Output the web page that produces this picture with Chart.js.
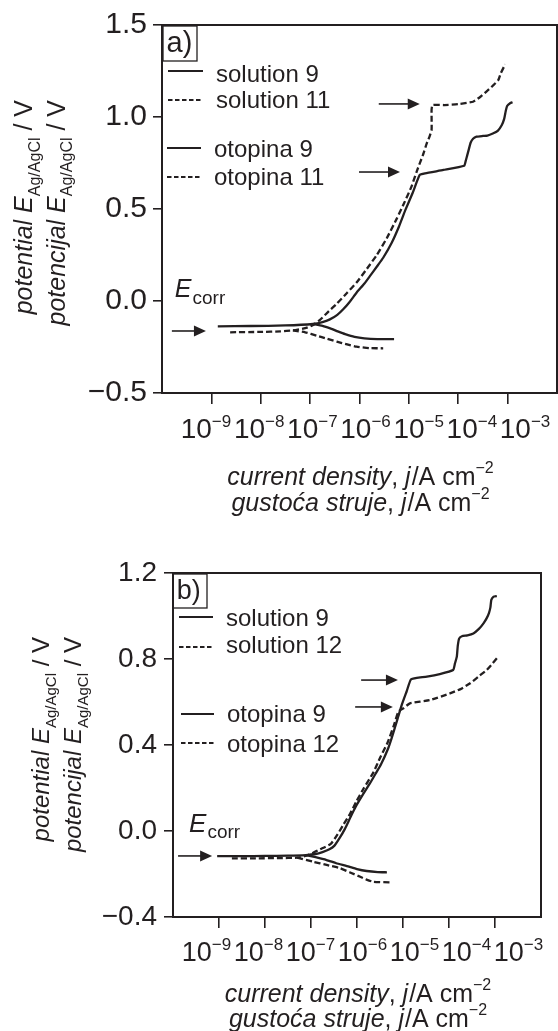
<!DOCTYPE html>
<html>
<head>
<meta charset="utf-8">
<title>Potentiodynamic polarization curves</title>
<script src="https://cdn.jsdelivr.net/npm/chart.js@4.4.1/dist/chart.umd.min.js"></script>
<style>
  html, body { margin: 0; padding: 0; background: #fff; }
  #wrap { position: relative; width: 558px; height: 1031px; overflow: hidden; }
  canvas { position: absolute; left: 0; }
</style>
</head>
<body>
<div id="wrap">
  <canvas id="panelA" width="558" height="530" style="top:0px"></canvas>
  <canvas id="panelB" width="558" height="501" style="top:530px"></canvas>
</div>
<script>
// ---- axis ticks -------------------------------------------------------------
// current-density decades that carry a tick and a label (exponent of 10)
const xTickExponents = [-9, -8, -7, -6, -5, -4, -3];
const yTicksA = [-0.5, 0.0, 0.5, 1.0, 1.5];
const yTickLabelsA = ['\u22120.5', '0.0', '0.5', '1.0', '1.5'];
const yTicksB = [-0.4, 0.0, 0.4, 0.8, 1.2];
const yTickLabelsB = ['\u22120.4', '0.0', '0.4', '0.8', '1.2'];

// ---- legend entries -----------------------------------------------------------
const legendA = ['solution 9', 'solution 11', 'otopina 9', 'otopina 11'];
const legendB = ['solution 9', 'solution 12', 'otopina 9', 'otopina 12'];

// ---- (a) solution 9 vs solution 11: log10(j / A cm^-2) and E / V ------------
const aSol9AnodicLogJ = [-8.87, -8.2, -7.5, -6.94, -6.75, -6.6, -6.45, -6.33, -6.2, -6.06, -5.9, -5.79, -5.64, -5.52, -5.35, -5.2, -5.07, -4.92, -4.78, -4.67, -4.3, -3.88, -3.85, -3.82, -3.79, -3.75, -3.70, -3.63, -3.5, -3.41, -3.3, -3.2, -3.12, -3.07, -3.04, -3.01, -2.95, -2.90];
const aSol9AnodicE    = [-0.138, -0.136, -0.133, -0.125, -0.115, -0.100, -0.075, -0.045, -0.005, 0.045, 0.095, 0.135, 0.19, 0.235, 0.315, 0.405, 0.495, 0.59, 0.685, 0.694, 0.712, 0.735, 0.76, 0.79, 0.82, 0.86, 0.882, 0.893, 0.897, 0.899, 0.91, 0.925, 0.955, 0.99, 1.03, 1.06, 1.075, 1.08];
const aSol9CathodicLogJ = [-6.94, -6.75, -6.58, -6.44, -6.29, -6.1, -5.9, -5.64, -5.3];
const aSol9CathodicE    = [-0.125, -0.135, -0.150, -0.165, -0.180, -0.195, -0.203, -0.207, -0.207];

const aSol11AnodicLogJ = [-8.62, -8.0, -7.6, -7.35, -7.1, -6.95, -6.8, -6.62, -6.46, -6.25, -6.06, -5.85, -5.65, -5.45, -5.25, -5.1, -4.95, -4.84, -4.72, -4.64, -4.58, -4.54, -4.54, -4.54, -4.52, -4.28, -4.0, -3.70, -3.55, -3.43, -3.3, -3.19, -3.14, -3.05];
const aSol11AnodicE    = [-0.170, -0.168, -0.165, -0.160, -0.148, -0.132, -0.103, -0.055, -0.015, 0.045, 0.10, 0.175, 0.25, 0.34, 0.445, 0.53, 0.62, 0.705, 0.79, 0.855, 0.895, 0.93, 1.00, 1.04, 1.065, 1.065, 1.07, 1.083, 1.11, 1.138, 1.17, 1.20, 1.237, 1.286];
const aSol11CathodicLogJ = [-7.35, -7.1, -6.87, -6.66, -6.46, -6.25, -6.06, -5.8, -5.52];
const aSol11CathodicE    = [-0.160, -0.170, -0.188, -0.205, -0.221, -0.236, -0.248, -0.256, -0.257];

// ---- (b) solution 9 vs solution 12 -------------------------------------------
const bSol9AnodicLogJ = [-9.04, -8.5, -8.0, -7.5, -7.11, -6.9, -6.75, -6.6, -6.49, -6.37, -6.26, -6.14, -6.02, -5.87, -5.72, -5.6, -5.48, -5.33, -5.25, -5.17, -5.1, -5.02, -4.92, -4.83, -4.7, -4.48, -4.2, -3.91, -3.87, -3.83, -3.81, -3.78, -3.72, -3.6, -3.47, -3.35, -3.25, -3.18, -3.13, -3.10, -3.08, -3.03, -2.96];
const bSol9AnodicE    = [-0.117, -0.117, -0.116, -0.115, -0.112, -0.107, -0.098, -0.085, -0.068, -0.030, 0.011, 0.065, 0.116, 0.17, 0.221, 0.265, 0.309, 0.38, 0.43, 0.485, 0.535, 0.591, 0.65, 0.704, 0.712, 0.718, 0.73, 0.749, 0.78, 0.811, 0.86, 0.895, 0.906, 0.91, 0.919, 0.94, 0.966, 0.99, 1.015, 1.04, 1.075, 1.09, 1.093];
const bSol9CathodicLogJ = [-7.11, -6.9, -6.66, -6.45, -6.22, -6.0, -5.79, -5.55, -5.35];
const bSol9CathodicE    = [-0.112, -0.122, -0.135, -0.150, -0.163, -0.177, -0.186, -0.191, -0.192];

const bSol12AnodicLogJ = [-8.72, -8.2, -7.7, -7.3, -7.1, -6.96, -6.8, -6.57, -6.42, -6.30, -6.15, -6.02, -5.85, -5.64, -5.5, -5.33, -5.2, -5.10, -4.99, -4.85, -4.41, -3.98, -3.75, -3.54, -3.35, -3.18, -3.05, -2.96];
const bSol12AnodicE    = [-0.127, -0.127, -0.126, -0.124, -0.115, -0.102, -0.085, -0.06, -0.015, 0.028, 0.08, 0.135, 0.2, 0.274, 0.34, 0.414, 0.49, 0.555, 0.571, 0.594, 0.609, 0.640, 0.66, 0.687, 0.72, 0.749, 0.78, 0.803];
const bSol12CathodicLogJ = [-7.3, -6.95, -6.66, -6.37, -6.15, -5.93, -5.78, -5.65, -5.28];
const bSol12CathodicE    = [-0.124, -0.143, -0.158, -0.173, -0.193, -0.213, -0.227, -0.236, -0.239];

// ---- drawing ----------------------------------------------------------------
const INK = '#231f20';
const FONT = "'Liberation Sans', Arial, Helvetica, sans-serif";
const Y_AXIS_WIDTH = 100;   // room for the potential tick labels

function points(logJ, e) {
  return logJ.map((lj, i) => ({ x: Math.pow(10, lj), y: e[i] }));
}

function runsWidth(ctx, runs) {
  let w = 0;
  for (const r of runs) { ctx.font = r.font; w += ctx.measureText(r.t).width + (r.gap || 0); }
  return w;
}
function drawRuns(ctx, x, y, runs) {
  for (const r of runs) {
    ctx.font = r.font;
    ctx.fillText(r.t, x, y + (r.dy || 0));
    x += ctx.measureText(r.t).width + (r.gap || 0);
  }
}

// frame, panel tag, legend, arrows, E_corr label, tick labels and axis titles
const panelDecor = {
  id: 'panelDecor',
  afterDraw(chart, _args, o) {
    const ctx = chart.ctx;
    const ca = chart.chartArea;
    const xs = chart.scales.x, ys = chart.scales.y;
    const px = lj => xs.getPixelForValue(Math.pow(10, lj));
    const py = e => ys.getPixelForValue(e);

    ctx.save();
    ctx.strokeStyle = INK;
    ctx.fillStyle = INK;
    ctx.textAlign = 'left';
    ctx.textBaseline = 'alphabetic';
    ctx.setLineDash([]);

    // closed plot frame
    ctx.lineWidth = 2;
    ctx.strokeRect(ca.left, ca.top, ca.right - ca.left, ca.bottom - ca.top);

    // boxed panel tag
    const t = o.tag;
    ctx.lineWidth = 1.3;
    ctx.strokeRect(ca.left + t.box[0], ca.top + t.box[1], t.box[2], t.box[3]);
    ctx.font = `${t.size}px ${FONT}`;
    ctx.fillText(t.text, ca.left + t.tx, ca.top + t.ty);

    // legend rows
    const lg = o.legend;
    lg.labels.forEach((label, i) => {
      const r = lg.rows[i];
      ctx.lineWidth = 2;
      ctx.setLineDash(r.dashed ? [4.5, 2.5] : []);
      ctx.beginPath();
      ctx.moveTo(ca.left + r.x0, ca.top + r.ly);
      ctx.lineTo(ca.left + r.x1, ca.top + r.ly);
      ctx.stroke();
      ctx.setLineDash([]);
      ctx.font = `${lg.size}px ${FONT}`;
      ctx.fillText(label, ca.left + r.tx, ca.top + r.ty);
    });

    // arrows marking E_corr and the breakdown potentials
    ctx.lineWidth = 1.6;
    o.arrows.forEach(a => {
      const x1 = px(a.from), x2 = px(a.to), y = py(a.e);
      ctx.beginPath();
      ctx.moveTo(x1, y);
      ctx.lineTo(x2 - 10, y);
      ctx.stroke();
      ctx.beginPath();
      ctx.moveTo(x2, y);
      ctx.lineTo(x2 - 12, y - 5.5);
      ctx.lineTo(x2 - 12, y + 5.5);
      ctx.closePath();
      ctx.fill();
    });

    // E_corr label
    const ec = o.ecorr;
    drawRuns(ctx, px(ec.at[0]), py(ec.at[1]), [
      { t: 'E', font: `italic ${ec.size}px ${FONT}`, gap: 1 },
      { t: 'corr', font: `${ec.sub}px ${FONT}`, dy: ec.drop }
    ]);

    // current-density tick labels 10^n
    const L = o.xLabels;
    xTickExponents.forEach((e, i) => {
      const runs = [
        { t: '10', font: `${L.size}px ${FONT}` },
        { t: '\u2212' + Math.abs(e), font: `${L.sup}px ${FONT}`, dy: -L.rise }
      ];
      const w = runsWidth(ctx, runs);
      const cx = px(e) + L.shift + (i - 3) * L.spread;
      drawRuns(ctx, cx - w / 2, ca.bottom + L.base, runs);
    });

    // x-axis title (two languages)
    const xt = o.xTitle;
    const xs0 = xt.size;
    ['current density', 'gusto\u0107a struje'].forEach((ln, k) => {
      const runs = [
        { t: ln, font: `italic ${xs0}px ${FONT}` },
        { t: ', ', font: `${xs0}px ${FONT}` },
        { t: 'j', font: `italic ${xs0}px ${FONT}`, gap: 1 },
        { t: '/A cm', font: `${xs0}px ${FONT}` },
        { t: '\u22122', font: `${xt.sup}px ${FONT}`, dy: -xt.rise }
      ];
      const w = runsWidth(ctx, runs);
      const cx = (ca.left + ca.right) / 2 + xt.dx;
      drawRuns(ctx, cx - w / 2, xt.base[k], runs);
    });

    // y-axis title (two languages), rotated
    const yt = o.yTitle;
    const s = yt.size;
    ['potential ', 'potencijal '].forEach((ln, k) => {
      const runs = [
        { t: ln, font: `italic ${s}px ${FONT}` },
        { t: 'E', font: `italic ${s}px ${FONT}` },
        { t: 'Ag/AgCl', font: `${Math.round(s * 0.62)}px ${FONT}`, dy: s * 0.3 },
        { t: ' / V', font: `${s}px ${FONT}` }
      ];
      const w = runsWidth(ctx, runs);
      ctx.save();
      ctx.translate(yt.x[k], yt.top);
      ctx.rotate(-Math.PI / 2);
      drawRuns(ctx, -w, 0, runs);
      ctx.restore();
    });

    ctx.restore();
  }
};

function makePanel(canvasId, p) {
  const solid = { borderDash: [] }, dashed = { borderDash: [6, 3] };
  const sets = [
    [p.s1Anodic, solid], [p.s1Cathodic, solid],
    [p.s2Anodic, dashed], [p.s2Cathodic, dashed]
  ];
  return new Chart(document.getElementById(canvasId), {
    type: 'scatter',
    data: {
      datasets: sets.map(([d, st]) => ({
        data: d,
        showLine: true,
        pointRadius: 0,
        pointHoverRadius: 0,
        borderColor: INK,
        borderWidth: 2.3,
        borderDash: st.borderDash,
        tension: 0.15,
        fill: false
      }))
    },
    options: {
      responsive: false,
      devicePixelRatio: 1,
      animation: false,
      events: [],
      layout: { autoPadding: false, padding: p.padding },
      plugins: {
        legend: { display: false },
        tooltip: { enabled: false },
        panelDecor: p.decor
      },
      scales: {
        x: {
          type: 'logarithmic',
          min: 1e-10,
          max: 1e-2,
          afterBuildTicks: sc => { sc.ticks = xTickExponents.map(e => ({ value: Math.pow(10, e) })); },
          afterFit: sc => { sc.height = 11; },
          ticks: { display: false },
          grid: { drawOnChartArea: false, drawTicks: true, tickLength: 11, color: INK, tickColor: INK, lineWidth: 1.6, tickWidth: 1.6 },
          border: { display: true, color: INK, width: 2 }
        },
        y: {
          type: 'linear',
          min: p.yTicks[0],
          max: p.yTicks[p.yTicks.length - 1],
          afterBuildTicks: sc => { sc.ticks = p.yTicks.map(v => ({ value: v })); },
          afterFit: sc => { sc.width = Y_AXIS_WIDTH; },
          ticks: {
            display: true,
            padding: p.yTickPad,
            color: INK,
            font: { family: FONT, size: p.yTickSize },
            callback: (v, i) => p.yTickLabels[i]
          },
          grid: { drawOnChartArea: false, drawTicks: true, tickLength: 9, color: INK, tickColor: INK, lineWidth: 1.6, tickWidth: 1.6 },
          border: { display: true, color: INK, width: 2 }
        }
      }
    },
    plugins: [panelDecor]
  });
}

makePanel('panelA', {
  s1Anodic: points(aSol9AnodicLogJ, aSol9AnodicE),
  s1Cathodic: points(aSol9CathodicLogJ, aSol9CathodicE),
  s2Anodic: points(aSol11AnodicLogJ, aSol11AnodicE),
  s2Cathodic: points(aSol11CathodicLogJ, aSol11CathodicE),
  yTicks: yTicksA,
  yTickLabels: yTickLabelsA,
  yTickSize: 30,
  yTickPad: 6,
  padding: { left: 162 - Y_AXIS_WIDTH, right: 1, top: 25, bottom: 126 },
  decor: {
    tag: { text: 'a)', size: 29, box: [1, 1, 34, 35], tx: 4.5, ty: 27 },
    legend: {
      labels: legendA,
      size: 24,
      rows: [
        { dashed: false, x0: 6, x1: 41, ly: 46, tx: 54, ty: 57 },
        { dashed: true,  x0: 6, x1: 41, ly: 75, tx: 54, ty: 83 },
        { dashed: false, x0: 5, x1: 39, ly: 123, tx: 52, ty: 132 },
        { dashed: true,  x0: 5, x1: 39, ly: 152, tx: 52, ty: 160 }
      ]
    },
    arrows: [
      { from: -9.80, to: -9.11, e: -0.163 },
      { from: -5.61, to: -4.78, e: 1.071 },
      { from: -6.01, to: -5.18, e: 0.701 }
    ],
    ecorr: { at: [-9.74, 0.022], size: 25, sub: 19, drop: 7 },
    xLabels: { size: 28, sup: 17, rise: 11, base: 45, shift: 6, spread: 3.8 },
    xTitle: { size: 25, sup: 16, rise: 12, base: [485, 511], dx: 1 },
    yTitle: { size: 25, x: [32, 64.5], top: 100 }
  }
});

makePanel('panelB', {
  s1Anodic: points(bSol9AnodicLogJ, bSol9AnodicE),
  s1Cathodic: points(bSol9CathodicLogJ, bSol9CathodicE),
  s2Anodic: points(bSol12AnodicLogJ, bSol12AnodicE),
  s2Cathodic: points(bSol12CathodicLogJ, bSol12CathodicE),
  yTicks: yTicksB,
  yTickLabels: yTickLabelsB,
  yTickSize: 28,
  yTickPad: 7,
  padding: { left: 173 - Y_AXIS_WIDTH, right: 17, top: 43, bottom: 103 },
  decor: {
    tag: { text: 'b)', size: 27, box: [0, 1, 34, 34], tx: 3.7, ty: 26 },
    legend: {
      labels: legendB,
      size: 24,
      rows: [
        { dashed: false, x0: 6, x1: 40, ly: 44, tx: 53, ty: 53 },
        { dashed: true,  x0: 6, x1: 40, ly: 74, tx: 53, ty: 80 },
        { dashed: false, x0: 8, x1: 41, ly: 141, tx: 54, ty: 149 },
        { dashed: true,  x0: 8, x1: 41, ly: 170, tx: 54, ty: 179 }
      ]
    },
    arrows: [
      { from: -9.89, to: -9.15, e: -0.116 },
      { from: -5.91, to: -5.11, e: 0.702 },
      { from: -6.04, to: -5.22, e: 0.577 }
    ],
    ecorr: { at: [-9.65, -0.005], size: 26, sub: 19, drop: 6 },
    xLabels: { size: 27, sup: 17, rise: 11, base: 44, shift: 5.5, spread: 6 },
    xTitle: { size: 25, sup: 16, rise: 12, base: [472, 497], dx: 1 },
    yTitle: { size: 24, x: [48.5, 80.5], top: 107 }
  }
});
</script>
</body>
</html>
